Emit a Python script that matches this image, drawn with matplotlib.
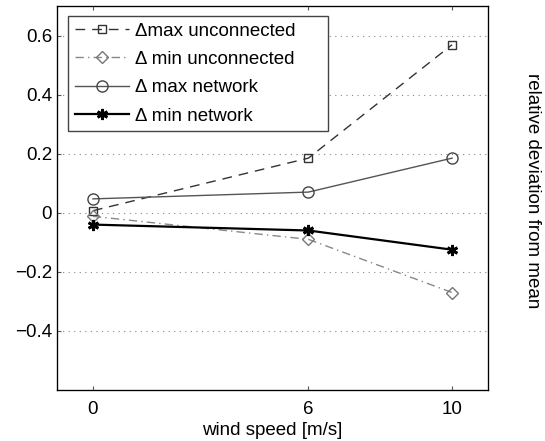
import matplotlib
matplotlib.use("Agg")
import matplotlib.pyplot as plt

plt.rcParams['font.family'] = ['Liberation Sans', 'DejaVu Sans']

wind_speed = [0, 6, 10]
dmax_unconnected = [0.007, 0.185, 0.569]
dmin_unconnected = [-0.012, -0.09, -0.27]
dmax_network = [0.047, 0.07, 0.185]
dmin_network = [-0.04, -0.06, -0.125]
labels = ['\u0394max unconnected', '\u0394 min unconnected', '\u0394 max network', '\u0394 min network']
xticks = [0, 6, 10]
yticks = [-0.4, -0.2, 0, 0.2, 0.4, 0.6]
yticklabels = ['\u22120.4', '\u22120.2', '0', '0.2', '0.4', '0.6']

FS = 13.5

fig = plt.figure(figsize=(5.45, 4.41), dpi=100)
ax = fig.add_axes([57/545, 1 - 390/441, (488-57)/545, (390-6)/441])

ax.plot(wind_speed, dmax_unconnected, linestyle=(0, (7, 5)), color='#333333', lw=1.0,
        marker='s', markersize=6, markerfacecolor='none', markeredgecolor='#333333', label=labels[0])
ax.plot(wind_speed, dmin_unconnected, linestyle=(0, (6, 3, 1, 3)), color='#888888', lw=1.0,
        marker='D', markersize=6, markerfacecolor='none', markeredgecolor='#777777', label=labels[1])
ax.plot(wind_speed, dmax_network, linestyle='-', color='#555555', lw=1.0,
        marker='o', markersize=8, markerfacecolor='none', markeredgecolor='#444444', label=labels[2])
ax.plot(wind_speed, dmin_network, linestyle='-', color='black', lw=1.6,
        marker=(6, 2, 0), markersize=8, markeredgewidth=2.0, markeredgecolor='black', label=labels[3])

ax.set_xlim(-1, 11)
ax.set_ylim(-0.6, 0.7)
ax.set_xticks(xticks)
ax.set_yticks(yticks)
ax.set_yticklabels(yticklabels)
ax.tick_params(direction='in', top=True, right=True, labelsize=FS, length=3, color='#555555')
ax.tick_params(axis='x', pad=8)
ax.yaxis.grid(True, linestyle=(0, (1, 4)), color='#888888', lw=0.8)
for s in ax.spines.values():
    s.set_color('#666666')
    s.set_linewidth(1.0)

ax.set_xlabel('wind speed [m/s]', fontsize=FS, labelpad=3)
ax2 = ax.twinx()
ax2.set_yticks([])
ax2.set_ylabel('relative deviation from mean', fontsize=FS, rotation=270, labelpad=38)
ax2.yaxis.label.set_y(0.52)

leg = ax.legend(loc='upper left', bbox_to_anchor=(0.0255, 0.974, 0.603, 0.0), mode='expand',
                fontsize=FS, frameon=True,
                fancybox=False, edgecolor='#444444', framealpha=1, handlelength=2.9,
                borderpad=0.35, labelspacing=0.6, handletextpad=0.3, borderaxespad=0.0)
leg.get_frame().set_linewidth(1.0)

fig.savefig('out.png', dpi=100)
